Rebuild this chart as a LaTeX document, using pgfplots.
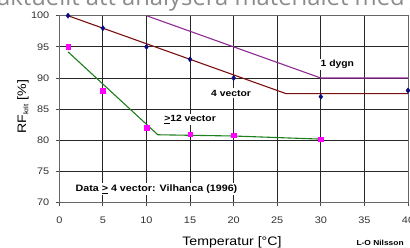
\documentclass[border=0pt]{standalone}
\usepackage{fontspec}
\setmainfont{Liberation Sans}[FakeStretch=1.15]
\newfontfamily\topfont{Open Sans}
\usepackage{pgfplots}
\pgfplotsset{compat=1.18}
\definecolor{cpurple}{HTML}{8E2A93}
\definecolor{cbrown}{HTML}{7A0F0F}
\definecolor{cgreen}{HTML}{1E7F1E}
\definecolor{cnavy}{HTML}{0A0A80}
\definecolor{cmag}{HTML}{FF00FF}
\begin{document}
\begin{tikzpicture}[x=1bp,y=1bp]
\useasboundingbox (0,0) rectangle (410,248);
\begin{scope}
\clip (0,0) rectangle (410,248);
\node[anchor=base west, inner sep=0pt, text=black!45] at (-3,242.5) {\topfont\fontsize{23.8bp}{26bp}\selectfont aktuellt att analysera materialet med};
\end{scope}
\begin{axis}[
  at={(59.3bp,45.3bp)}, anchor=south west,
  width=348.7bp, height=187bp, scale only axis,
  xmin=0, xmax=40, ymin=70, ymax=100,
  xtick={0,5,...,40}, ytick={70,75,...,100},
  grid=major,
  major grid style={black!85, line width=0.8bp},
  axis line style={black!60, line width=0.8bp},
  tick style={black!70, line width=0.8bp},
  tick align=outside, major tick length=3.5bp,
  xtick pos=bottom, ytick pos=left,
  /pgf/number format/assume math mode=true,
  ticklabel style={font=\fontsize{9.5bp}{10bp}\selectfont, text=black!80},
  yticklabel style={xshift=-3bp},
  xticklabel style={yshift=-7bp},
  xlabel={Temperatur [°C]},
  xlabel style={at={(axis description cs:0.495,0)}, anchor=center, yshift=-40bp, font=\fontsize{12.3bp}{14bp}\selectfont},
  ylabel={RF\raisebox{-0.35ex}{\fontsize{7bp}{8bp}\selectfont krit} [\%]},
  ylabel style={at={(axis description cs:-0.104,0.513)}, anchor=center, font=\fontsize{12.3bp}{14bp}\selectfont},
  clip=false,
]
\addplot[cpurple, line width=1.1bp, no marks] coordinates {(10,100) (30,90) (40,90)};
\addplot[cbrown, line width=1.1bp, no marks] coordinates {(1,100) (26,87.5) (40,87.5)};
\addplot[cgreen, line width=1.1bp, no marks] coordinates {(1,94.2) (11.3,80.9) (20,80.7) (25,80.45) (30,80.2)};
\addplot[only marks, mark=diamond*, mark size=2.6bp, cnavy] coordinates {(1,100) (5,98) (10,95) (15,93) (20,90) (30,87) (40,88)};
\addplot[only marks, mark=square*, mark size=2.3bp, cmag] coordinates {(1,95) (5,88) (10,82) (15,81) (20,80.85) (30,80.2)};
\node[font=\bfseries\fontsize{9bp}{10bp}\selectfont, fill=white, inner sep=1.5bp] at (axis cs:31.9,92.2) {1 dygn};
\node[font=\bfseries\fontsize{9bp}{10bp}\selectfont, fill=white, inner sep=1.5bp] at (axis cs:19.7,87.6) {4 vector};
\node[font=\bfseries\fontsize{9bp}{10bp}\selectfont, fill=white, inner sep=1.5bp] at (axis cs:15,83.4) {\underline{>}12 vector};
\node[font=\bfseries\fontsize{9.3bp}{10bp}\selectfont, fill=white, inner sep=1.5bp] at (axis cs:11.15,72.2) {Data \underline{>} 4 vector: Vilhanca (1996)};
\node[font=\bfseries\fontsize{7.3bp}{8bp}\selectfont, anchor=center] at (axis description cs:0.92,-0.215) {L-O Nilsson};
\end{axis}
\end{tikzpicture}
\end{document}
